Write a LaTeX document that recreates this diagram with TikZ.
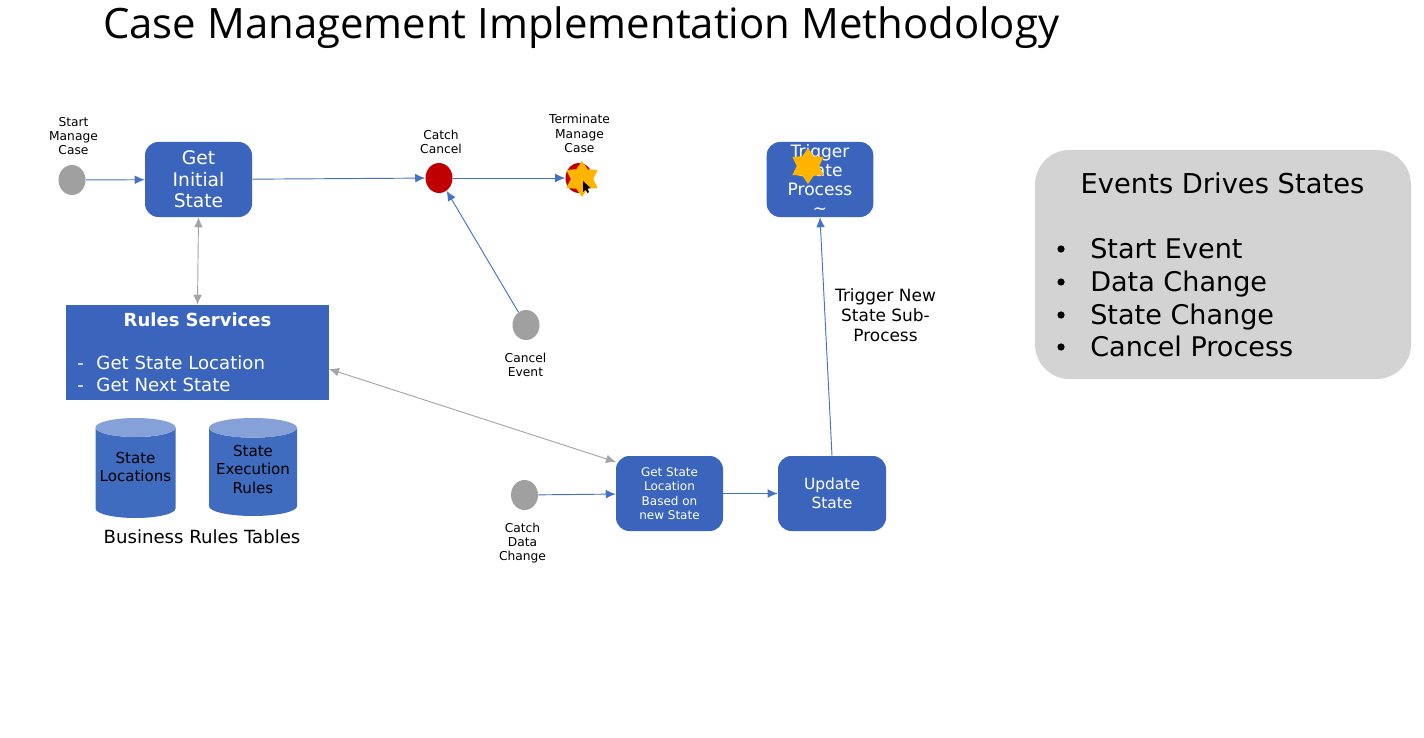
\documentclass[tikz,border=0pt]{standalone}
\usepackage{fontspec}
\setmainfont{DejaVu Sans}
\newfontfamily\titlefont{Open Sans}
\usepackage{tikz}
\usetikzlibrary{arrows.meta,positioning,calc,shapes}

\definecolor{boxblue}{HTML}{3B65BC}
\definecolor{cylblue}{HTML}{3F6CBF}
\definecolor{cyltop}{HTML}{86A0D8}
\definecolor{linkblue}{HTML}{4472C4}
\definecolor{linkgray}{HTML}{A5A5A5}
\definecolor{eventgray}{HTML}{A0A0A0}
\definecolor{catchred}{HTML}{C00000}
\definecolor{stargold}{HTML}{FFB400}
\definecolor{panelgray}{HTML}{D3D3D3}

\tikzset{
  stepbox/.style={draw=none,fill=boxblue,rounded corners=10pt,text=white,align=center,inner sep=0pt},
  event/.style={ellipse,fill=#1,inner sep=0pt,minimum width=27\pxu,minimum height=30\pxu},
  eventlabel/.style={align=center,font=\fontsize{9.2pt}{10.6pt}\selectfont,inner sep=0pt},
  tablecyl/.style={cylinder,shape border rotate=90,aspect=0.3,cylinder uses custom fill,
    cylinder body fill=cylblue,cylinder end fill=cyltop,inner sep=0pt,anchor=shape center},
  tabletext/.style={align=center,inner sep=0pt,font=\fontsize{11.3pt}{13.7pt}\selectfont},
  burst/.style={star,star points=6,star point ratio=1.6,fill=stargold,inner sep=0pt,minimum size=36\pxu},
  bluelink/.style={-{Latex[length=7.5pt,width=6.5pt]},draw=linkblue,line width=0.7pt},
  graylink/.style={{Latex[length=7.5pt,width=6.5pt]}-{Latex[length=7.5pt,width=6.5pt]},draw=linkgray,line width=0.7pt},
}
\newcommand{\pxu}{pt*0.75}

\begin{document}
\begin{tikzpicture}[x=0.75pt,y=-0.75pt]
    \useasboundingbox (0,0) rectangle (1424,738);

    % Title
    \node[anchor=base west,inner sep=0pt,font=\titlefont\fontsize{31.4pt}{36pt}\selectfont] (title) at (103,39) {Case Management Implementation Methodology};

    % Top row
    \node[event=eventgray] (start) at (72,180) {};
    \node[eventlabel] (startlabel) at (73.5,136) {Start\\Manage\\Case};
    \node[stepbox,minimum width=80.25pt,minimum height=56.25pt,font=\fontsize{14pt}{16.2pt}\selectfont] (initial) at (198.5,179.5) {Get\\Initial\\State};
    \node[event=catchred] (catch) at (439,178) {};
    \node[eventlabel] (catchlabel) at (441,142) {Catch\\Cancel};
    \node[event=catchred] (terminate) at (579,178) {};
    \node[eventlabel] (terminatelabel) at (579.5,133.5) {Terminate\\Manage\\Case};
    \node[burst] (terminatestar) at (582,179) {};
    \fill[black] (583,181) -- (583,192) -- (585.5,189.5) -- (587.5,193) -- (589,192) -- (587.5,188.5) -- (590.5,188) -- cycle;

    \node[event=eventgray] (cancel) at (526,325) {};
    \node[eventlabel] (cancellabel) at (525.5,364.5) {Cancel\\Event};

    % Trigger box with star on top of the text
    \node[stepbox,minimum width=80pt,minimum height=56.25pt,font=\fontsize{12.8pt}{14.1pt}\selectfont] (trigger) at (820,179.5) {Trigger\\State\\Process\\\char`\~};
    \node[burst] (triggerstar) at (808,166) {};
    \node[align=center,inner sep=0pt,font=\fontsize{12.7pt}{15pt}\selectfont] (triggerlabel) at (885.5,315.5) {Trigger New\\State Sub-\\Process};

    % Rules service and tables
    \node[fill=boxblue,minimum width=197.25pt,minimum height=71.25pt,inner sep=0pt] (rules) at (197.5,352.5) {};
    \node[text=white,inner sep=0pt,font=\bfseries\fontsize{13.5pt}{15pt}\selectfont] (rulestitle) at (197.5,320) {Rules Services};
    \node[text=white,anchor=base west,inner sep=0pt,font=\fontsize{13.6pt}{15pt}\selectfont] (rulesone) at (77,369.5) {-\hspace{9.5pt}Get State Location};
    \node[text=white,anchor=base west,inner sep=0pt,font=\fontsize{13.6pt}{15pt}\selectfont] (rulestwo) at (77,391.5) {-\hspace{9.5pt}Get Next State};
    \node[tablecyl,minimum height=75pt,minimum width=60pt] (locations) at (135.5,468) {\phantom{Locations}};
    \node[tabletext] (locationstext) at (135.5,467) {State\\Locations};
    \node[tablecyl,minimum height=73.5pt,minimum width=66pt] (execution) at (253,467) {\phantom{Execution}};
    \node[tabletext] (executiontext) at (253,469.5) {State\\Execution\\Rules};
    \node[inner sep=0pt,font=\fontsize{13.6pt}{15pt}\selectfont] (tableslabel) at (202,537) {Business Rules Tables};

    % Bottom row
    \node[event=eventgray] (datachange) at (524.5,495) {};
    \node[eventlabel] (datachangelabel) at (522.5,543) {Catch\\Data\\Change};
    \node[stepbox,minimum width=80.25pt,minimum height=56.25pt,font=\fontsize{9pt}{10.8pt}\selectfont] (getstate) at (669.5,493.5) {Get State\\Location\\Based on\\new State};
    \node[stepbox,minimum width=81pt,minimum height=56.25pt,font=\fontsize{11.6pt}{14.1pt}\selectfont] (update) at (832,493.5) {Update\\State};

    % Panel
    \node[fill=panelgray,rounded corners=26pt,minimum width=282pt,minimum height=171.75pt,inner sep=0pt] (panel) at (1223,264.5) {};
    \node[inner sep=0pt,font=\fontsize{20.5pt}{24pt}\selectfont] (paneltitle) at (1222.5,183.5) {Events Drives States};
    \foreach \name/\ypos/\itemtext in {a/258/Start Event,b/291/Data Change,c/324/State Change,d/356/Cancel Process}{
        \node[anchor=base west,inner sep=0pt,font=\fontsize{20.3pt}{24pt}\selectfont] (item\name) at (1090,\ypos) {\itemtext};
        \fill (1061,\ypos-9) circle (3.6);
    }

    % Connectors
    \coordinate (rulesport) at (329,369);
    \coordinate (getstateport) at (616,462);
    \draw[bluelink] (start) -- (initial);
    \draw[bluelink] (initial) -- (catch);
    \draw[bluelink] (catch) -- (terminate);
    \draw[bluelink] (cancel) -- (catch);
    \draw[bluelink] (datachange) -- (getstate);
    \draw[bluelink] (getstate) -- (update);
    \draw[bluelink] (update.north) -- (trigger.south);
    \draw[graylink] (initial.south) -- (rules.north);
    \draw[graylink] (rulesport) -- (getstateport);
\end{tikzpicture}
\end{document}
